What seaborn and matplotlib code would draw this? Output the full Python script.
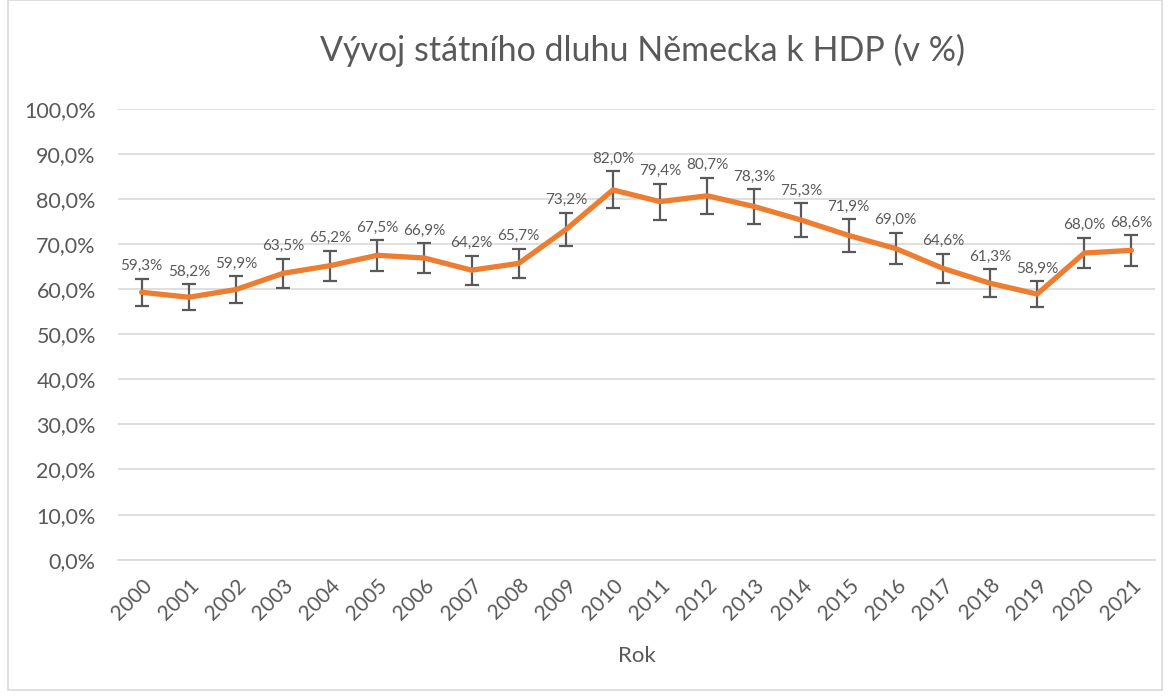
import matplotlib as mpl
mpl.use("Agg")
import matplotlib.pyplot as plt
from matplotlib.patches import Rectangle
import numpy as np
import pandas as pd
import seaborn as sns

# data
years = list(range(2000, 2022))
debt = [59.3, 58.2, 59.9, 63.5, 65.2, 67.5, 66.9, 64.2, 65.7, 73.2, 82.0,
        79.4, 80.7, 78.3, 75.3, 71.9, 69.0, 64.6, 61.3, 58.9, 68.0, 68.6]
# error bar half-widths (about 5 % of value)
err = [3.0, 2.9, 3.0, 3.2, 3.3, 3.4, 3.3, 3.2, 3.3, 3.7, 4.1,
       4.0, 4.0, 3.9, 3.8, 3.6, 3.5, 3.2, 3.1, 2.9, 3.4, 3.4]
y_ticks = [0, 10, 20, 30, 40, 50, 60, 70, 80, 90, 100]

title = "Vývoj státního dluhu Německa k HDP (v %)"
x_label = "Rok"

df = pd.DataFrame({"rok": years, "dluh": debt, "err": err})

sns.set_theme(style="white")
plt.rcParams["font.family"] = ["Lato", "DejaVu Sans"]

txt = "#595959"
orange = "#ED7D31"
grid = "#D9D9D9"

fig = plt.figure(figsize=(11.69, 6.97), dpi=100)
ax = fig.add_axes([0.101, 0.197, 0.887, 0.647])

ax.errorbar(df["rok"], df["dluh"], yerr=df["err"], fmt="none",
            ecolor=txt, elinewidth=1.6, capsize=5, capthick=1.6, zorder=2)
sns.lineplot(data=df, x="rok", y="dluh", ax=ax, color=orange,
             linewidth=3.8, zorder=3)

for x, v, e in zip(df["rok"], df["dluh"], df["err"]):
    ax.annotate(f"{v:.1f}%".replace(".", ","), (x, v + e),
                xytext=(0, 4), textcoords="offset points",
                ha="center", va="bottom", fontsize=11, color=txt)

ax.set_xlim(years[0] - 0.5, years[-1] + 0.5)
ax.set_ylim(0, 100)
ax.set_yticks(y_ticks)
ax.set_yticklabels([f"{t:.1f}%".replace(".", ",") for t in y_ticks],
                   fontsize=15.5, color=txt)
ax.set_xticks(years)
ax.set_xticklabels([str(y) for y in years], rotation=45, ha="right",
                   rotation_mode="anchor", fontsize=15, color=txt)
ax.tick_params(axis="x", length=0, pad=11)
ax.tick_params(axis="y", length=0, pad=16)

# minor ticks between categories (Excel style)
ax.set_xticks(np.arange(years[0] - 0.5, years[-1] + 1.0, 1.0), minor=True)
ax.tick_params(axis="x", which="minor", length=6, color=grid, width=1.2,
               direction="out")

ax.grid(axis="y", color=grid, linewidth=1.2)
ax.set_axisbelow(True)
for s in ["top", "right", "left"]:
    ax.spines[s].set_visible(False)
ax.spines["bottom"].set_color(grid)
ax.spines["bottom"].set_linewidth(1.2)

ax.set_xlabel(x_label, fontsize=16, color=txt, labelpad=16)
ax.set_ylabel("")
fig.text(0.55, 0.928, title, ha="center", va="center", fontsize=24.5,
         color=txt)

fig.patches.append(Rectangle((0.007, 0.01), 0.987, 0.99,
                             transform=fig.transFigure, fill=False,
                             edgecolor=grid, linewidth=1.2))

fig.savefig("out.png", dpi=100)
